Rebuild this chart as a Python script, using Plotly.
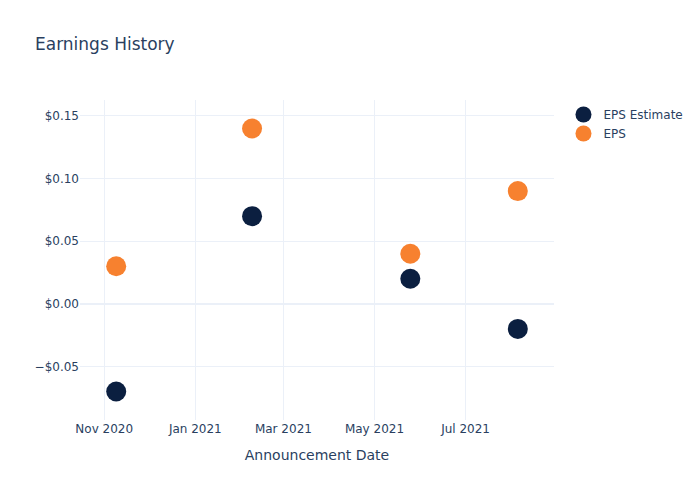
import plotly.graph_objects as go

dates = ["2020-11-09", "2021-02-08", "2021-05-25", "2021-08-05"]
eps_estimate = [-0.07, 0.07, 0.02, -0.02]
eps_actual = [0.03, 0.14, 0.04, 0.09]

fig = go.Figure()
fig.add_trace(go.Scatter(x=dates, y=eps_estimate, mode="markers", name="EPS Estimate",
                         marker=dict(color="#0b1f40", size=20)))
fig.add_trace(go.Scatter(x=dates, y=eps_actual, mode="markers", name="EPS",
                         marker=dict(color="#f7812f", size=20)))
fig.update_layout(
    template="plotly_white",
    width=700, height=500,
    font=dict(family="DejaVu Sans"),
    title=dict(text="Earnings History"),
    xaxis=dict(title=dict(text="Announcement Date")),
    yaxis=dict(tickformat="$.2f"),
)
fig.write_html("out.html", config={"displayModeBar": False},
               post_script="document.body.style.margin='0';")
